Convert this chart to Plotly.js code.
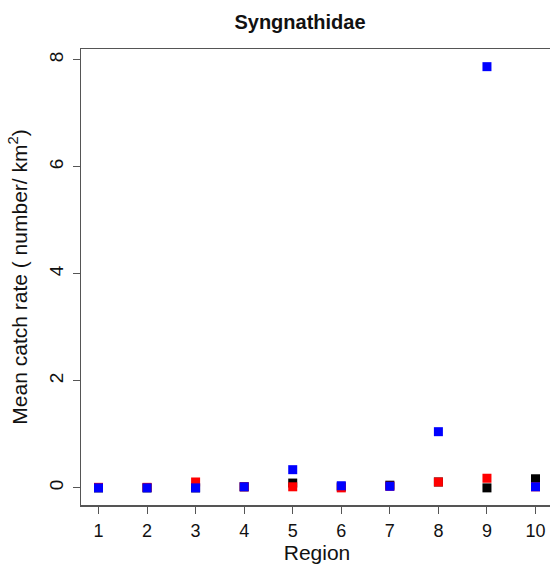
<!DOCTYPE html>
<html>
<head>
<meta charset="utf-8">
<script src="https://cdn.plot.ly/plotly-3.0.1.min.js"></script>
<style>
html,body{margin:0;padding:0;overflow:hidden;background:#fff;}
#chart{width:556px;height:569px;}
</style>
</head>
<body>
<div id="chart"></div>
<script>
var regions = [1, 2, 3, 4, 5, 6, 7, 8, 9, 10];
var seriesBlack = [0, 0, 0, 0.02, 0.09, 0.02, 0.05, 0.11, 0, 0.17];
var seriesRed = [0.01, 0.01, 0.11, 0.02, 0.02, 0.0, 0.03, 0.11, 0.18, 0.02];
var seriesBlue = [0, 0, 0, 0.02, 0.34, 0.04, 0.03, 1.05, 7.87, 0.02];
var xTicks = [1, 2, 3, 4, 5, 6, 7, 8, 9, 10];
var yTicks = [0, 2, 4, 6, 8];

function tr(y, color) {
  return {
    x: regions, y: y, type: 'scatter', mode: 'markers',
    marker: {symbol: 'square', size: 9, color: color, line: {width: 0}},
    cliponaxis: false, hoverinfo: 'x+y'
  };
}
var data = [tr(seriesBlack, '#000000'), tr(seriesRed, '#ff0000'), tr(seriesBlue, '#0000ff')];

var fam = 'Liberation Sans, Arial, sans-serif';
var tickFont = {family: fam, size: 18, color: '#111'};
var yTickFont = {family: fam, size: 19, color: '#111'};
var labFont = {family: fam, size: 21, color: '#111'};
var layout = {
  width: 556, height: 569,
  margin: {l: 81, r: 3, t: 49, b: 64},
  showlegend: false,
  paper_bgcolor: '#fff', plot_bgcolor: '#fff',
  font: tickFont,
  title: {
    text: '<b>Syngnathidae</b>',
    font: {family: fam, size: 20, color: '#111'},
    xref: 'container', x: 300 / 556, xanchor: 'center',
    yref: 'container', y: 1 - 22 / 569, yanchor: 'middle'
  },
  xaxis: {
    range: [0.64, 10.36], tickmode: 'array', tickvals: xTicks,
    ticktext: xTicks.map(String),
    showgrid: false, zeroline: false,
    showline: true, mirror: true, linecolor: '#555', linewidth: 1.5,
    ticks: 'outside', ticklen: 7, tickwidth: 1, tickcolor: '#555',
    tickfont: tickFont, ticklabelstandoff: 2,
    title: {text: 'Region', font: labFont, standoff: 4}
  },
  yaxis: {
    range: [-0.32, 8.2], tickmode: 'array', tickvals: yTicks,
    ticktext: yTicks.map(String), tickangle: -90,
    showgrid: false, zeroline: false,
    showline: true, mirror: true, linecolor: '#555', linewidth: 1.5,
    ticks: 'outside', ticklen: 7, tickwidth: 1, tickcolor: '#555',
    tickfont: yTickFont, ticklabelstandoff: 2,
    title: {text: 'Mean catch rate ( number/ km<sup>2</sup>)', font: labFont, standoff: 12}
  }
};
Plotly.newPlot('chart', data, layout, {displayModeBar: false, staticPlot: true});
</script>
</body>
</html>
